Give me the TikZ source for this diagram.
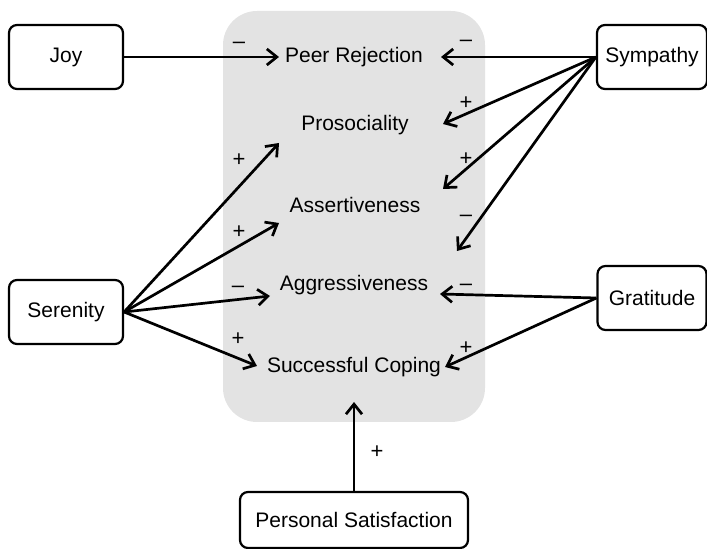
\documentclass[tikz,border=0pt]{standalone}
\usepackage{fontspec}
\setmainfont{Liberation Sans}
\usepackage{tikz}
\usetikzlibrary{arrows.meta, positioning}
\definecolor{panelgray}{RGB}{227,227,227}

\begin{document}
\begin{tikzpicture}[
  x=0.5pt, y=-0.5pt,
  every node/.style={font=\fontsize{10.5}{12}\selectfont},
  emotion/.style={draw, line width=1.1pt, rounded corners=4pt, minimum width=57pt, minimum height=32pt},
  outcome/.style={inner sep=0pt},
  sign/.style={inner sep=0pt, font=\fontsize{11}{13}\selectfont},
  effect/.style={line width=1.35pt, -{Straight Barb[length=5pt, width=8pt, line width=1.35pt]}}
]
  \useasboundingbox (0,0) rectangle (707,549);
  \fill[panelgray, rounded corners=17pt] (223,11) rectangle (485,422);

  \node[emotion] (joy) at (66,57) {Joy};
  \node[emotion, minimum width=55pt] (symp) at (652,57) {Sympathy};
  \node[emotion] (seren) at (66,312) {Serenity};
  \node[emotion, minimum width=54.5pt] (grat) at (652,298) {Gratitude};
  \node[emotion, minimum width=114pt, minimum height=28pt] (persat) at (354,520) {Personal Satisfaction};

  \node[outcome] (rej) at (354,57) {Peer Rejection};
  \node[outcome] (pros) at (355,125) {Prosociality};
  \node[outcome] (assert) at (355,205) {Assertiveness};
  \node[outcome] (aggr) at (354,285) {Aggressiveness};
  \node[outcome] (coping) at (354,367) {Successful Coping};

  \draw[effect] (joy.east) -- ([shift={(-75,0)}]rej.center);
  \draw[effect] (symp.west) -- ([shift={(87,0)}]rej.center);
  \draw[effect] (symp.west) -- ([shift={(88,-1)}]pros.center);
  \draw[effect] (symp.west) -- ([shift={(88,-16)}]assert.center);
  \draw[effect] (symp.west) -- ([shift={(103,-34)}]aggr.center);
  \draw[effect] (seren.east) -- ([shift={(-76,18)}]pros.center);
  \draw[effect] (seren.east) -- ([shift={(-76,18)}]assert.center);
  \draw[effect] (seren.east) -- ([shift={(-84,11)}]aggr.center);
  \draw[effect] (seren.east) -- ([shift={(-97,-1)}]coping.center);
  \draw[effect] (grat.west) -- ([shift={(86,9)}]aggr.center);
  \draw[effect] (grat.west) -- ([shift={(91,0)}]coping.center);
  \draw[effect] (persat.north) -- ([shift={(0,35)}]coping.center);

  \node[sign] (s1) at (239,45) {–};
  \node[sign] (s2) at (466,43) {–};
  \node[sign] (s3) at (466,103) {+};
  \node[sign] (s4) at (466,159) {+};
  \node[sign] (s5) at (466,218) {–};
  \node[sign] (s6) at (239,160) {+};
  \node[sign] (s7) at (239,232) {+};
  \node[sign] (s8) at (238,289) {–};
  \node[sign] (s9) at (238,339) {+};
  \node[sign] (s10) at (466,287) {–};
  \node[sign] (s11) at (466,348) {+};
  \node[sign] (s12) at (377,452) {+};
\end{tikzpicture}
\end{document}
